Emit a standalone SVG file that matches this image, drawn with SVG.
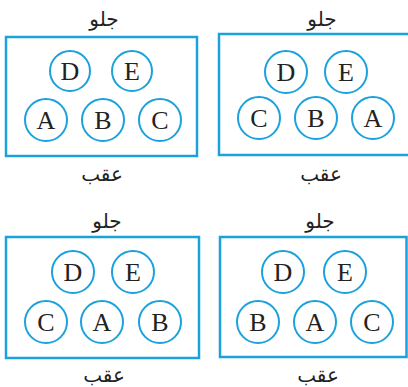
<svg xmlns="http://www.w3.org/2000/svg" width="408" height="387" viewBox="0 0 408 387">
<style>
.box{fill:none;stroke:#1ba1dc;stroke-width:2.5}
.c{fill:#fff;stroke:#1ba1dc;stroke-width:2}
.l{font-family:"Liberation Serif",serif;font-size:26px;fill:#222;text-anchor:middle}
.ar{font-family:"DejaVu Sans",sans-serif;font-size:20px;fill:#222;text-anchor:middle}
</style>
<rect width="408" height="387" fill="#fff"/>
<g id="panel1">
<text class="ar" x="104" y="26" direction="rtl">جلو</text>
<rect class="box" x="6" y="37" width="191" height="119"/>
<text class="ar" x="102" y="181" direction="rtl">عقب</text>
<g id="p1D"><circle class="c" cx="70" cy="71" r="20"/><text class="l" x="70" y="80">D</text></g>
<g id="p1E"><circle class="c" cx="132" cy="71" r="20"/><text class="l" x="132" y="80">E</text></g>
<g id="p1A"><circle class="c" cx="46" cy="120" r="21"/><text class="l" x="46" y="129">A</text></g>
<g id="p1B"><circle class="c" cx="103" cy="120" r="21"/><text class="l" x="103" y="129">B</text></g>
<g id="p1C"><circle class="c" cx="160" cy="120" r="21"/><text class="l" x="160" y="129">C</text></g>
</g>
<g id="panel2">
<text class="ar" x="322" y="26" direction="rtl">جلو</text>
<rect class="box" x="219" y="34" width="195" height="121"/>
<text class="ar" x="321" y="181" direction="rtl">عقب</text>
<g id="p2D"><circle class="c" cx="286" cy="72" r="21"/><text class="l" x="286" y="81">D</text></g>
<g id="p2E"><circle class="c" cx="346" cy="72" r="21"/><text class="l" x="346" y="81">E</text></g>
<g id="p2C"><circle class="c" cx="259" cy="118" r="21"/><text class="l" x="259" y="127">C</text></g>
<g id="p2B"><circle class="c" cx="316" cy="118" r="21"/><text class="l" x="316" y="127">B</text></g>
<g id="p2A"><circle class="c" cx="373" cy="118" r="21"/><text class="l" x="373" y="127">A</text></g>
</g>
<g id="panel3">
<text class="ar" x="107" y="228" direction="rtl">جلو</text>
<rect class="box" x="6" y="237" width="193" height="121"/>
<text class="ar" x="104" y="382" direction="rtl">عقب</text>
<g id="p3D"><circle class="c" cx="73" cy="272" r="21"/><text class="l" x="73" y="281">D</text></g>
<g id="p3E"><circle class="c" cx="133" cy="272" r="21"/><text class="l" x="133" y="281">E</text></g>
<g id="p3C"><circle class="c" cx="46" cy="322" r="21"/><text class="l" x="46" y="331">C</text></g>
<g id="p3A"><circle class="c" cx="102" cy="322" r="21"/><text class="l" x="102" y="331">A</text></g>
<g id="p3B"><circle class="c" cx="160" cy="322" r="21"/><text class="l" x="160" y="331">B</text></g>
</g>
<g id="panel4">
<text class="ar" x="320" y="228" direction="rtl">جلو</text>
<rect class="box" x="220" y="237" width="186.5" height="120"/>
<text class="ar" x="318" y="382" direction="rtl">عقب</text>
<g id="p4D"><circle class="c" cx="283" cy="272" r="21"/><text class="l" x="283" y="281">D</text></g>
<g id="p4E"><circle class="c" cx="345" cy="272" r="21"/><text class="l" x="345" y="281">E</text></g>
<g id="p4B"><circle class="c" cx="258" cy="322" r="21"/><text class="l" x="258" y="331">B</text></g>
<g id="p4A"><circle class="c" cx="315" cy="322" r="21"/><text class="l" x="315" y="331">A</text></g>
<g id="p4C"><circle class="c" cx="372" cy="322" r="21"/><text class="l" x="372" y="331">C</text></g>
</g>
</svg>
